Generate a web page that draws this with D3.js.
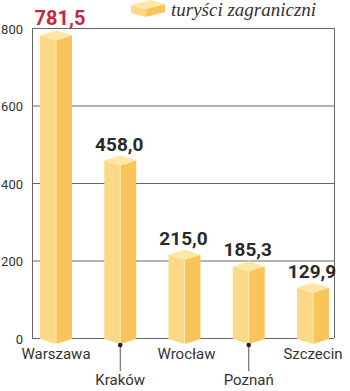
<!DOCTYPE html>
<html><head><meta charset="utf-8">
<script src="https://cdn.jsdelivr.net/npm/d3@7"></script>
<style>
html,body{margin:0;padding:0;background:#fff;}
svg{display:block;}
</style></head>
<body>
<svg id="chart" width="350" height="391"></svg>
<script>
const categories = ["Warszawa", "Kraków", "Wrocław", "Poznań", "Szczecin"];
const values = [781.5, 458.0, 215.0, 185.3, 129.9];
const valueLabels = ["781,5", "458,0", "215,0", "185,3", "129,9"];
const yTicks = [0, 200, 400, 600, 800];
const seriesName = "turyści zagraniczni";

(function () {
const svg = d3.select("#chart");
const mLeft = 32, mRight = 334, mTop = 28, mBottom = 338;
const y = d3.scaleLinear().domain([0, 800]).range([mBottom, mTop]);
const x = d3.scalePoint().domain(categories).range([56, 313]);
const bw = 32, d = 5;

const cTop = "#fee6a4", cLeft = "#fdd886", cRight = "#f9c55a";

// gridlines
const yAxis = d3.axisLeft(y).tickValues(yTicks).tickSize(-(mRight - mLeft)).tickFormat(d3.format("d"));
const ga = svg.append("g").attr("transform", `translate(${mLeft},0)`).call(yAxis);
ga.select(".domain").remove();
ga.selectAll(".tick line").attr("stroke", "#666").attr("stroke-width", 1);
ga.selectAll(".tick text").attr("x", -9).attr("dy", "0.62em").attr("y", -3)
  .attr("fill", "#333").style("font-family", "Roboto, sans-serif").style("font-size", "13px");
// frame verticals
svg.append("line").attr("x1", mLeft + 0.5).attr("x2", mLeft + 0.5).attr("y1", y(800)).attr("y2", y(0)).attr("stroke", "#666");
svg.append("line").attr("x1", mRight + 0.5).attr("x2", mRight + 0.5).attr("y1", y(800)).attr("y2", y(0)).attr("stroke", "#666");

// bars
const bars = svg.append("g").selectAll("g").data(categories).join("g");
bars.each(function(c, i) {
  const g = d3.select(this);
  const xc = x(c), x0 = xc - bw / 2, x1 = xc + bw / 2, yv = y(values[i]), y0 = y(0);
  g.append("polygon").attr("fill", cLeft)
    .attr("points", [[x0, yv], [xc, yv + d], [xc, y0 + 6], [x0, y0 + 1]].join(" "));
  g.append("polygon").attr("fill", cRight)
    .attr("points", [[xc, yv + d], [x1, yv], [x1, y0 + 1], [xc, y0 + 6]].join(" "));
  g.append("polygon").attr("fill", cTop)
    .attr("points", [[x0, yv], [xc, yv - d], [x1, yv], [xc, yv + d]].join(" "));
  g.append("line").attr("x1", xc).attr("x2", xc).attr("y1", yv + d).attr("y2", y0 + 6)
    .attr("stroke", "#fff2cc").attr("stroke-width", 0.8);
  g.append("text").attr("x", xc + (i === 0 ? 4 : -1)).attr("y", yv - 10)
    .attr("text-anchor", "middle")
    .attr("fill", i === 0 ? "#c8283f" : "#2a2a2a")
    .style("font-family", "Roboto, sans-serif").style("font-weight", "bold")
    .style("font-size", i === 0 ? "20px" : "19px")
    .text(valueLabels[i]);
  const low = i % 2 === 1;
  if (low) {
    g.append("line").attr("x1", xc).attr("x2", xc).attr("y1", y0 + 7).attr("y2", y0 + 33)
      .attr("stroke", "#555").attr("stroke-width", 1);
    g.append("circle").attr("cx", xc).attr("cy", y0 + 7).attr("r", 2.3).attr("fill", "#222");
  }
  g.append("text").attr("x", xc + (i === 2 ? 2 : 0)).attr("y", low ? 385 : 359)
    .attr("text-anchor", "middle").attr("fill", "#333")
    .style("font-family", "Roboto, sans-serif").style("font-size", "15px")
    .text(c);
});

// legend
const lg = svg.append("g");
lg.append("polygon").attr("fill", cLeft).attr("points", "131,5 146,9 146,17 131,13");
lg.append("polygon").attr("fill", cRight).attr("points", "146,9 165,4 165,12 146,17");
lg.append("polygon").attr("fill", cTop).attr("points", "131,5 150,0 165,4 146,9");
lg.append("text").attr("x", 171).attr("y", 15.5).attr("fill", "#333")
  .style("font-family", "'Liberation Serif', serif").style("font-style", "italic").style("font-size", "19px")
  .text(seriesName);
})();
</script>
</body></html>
